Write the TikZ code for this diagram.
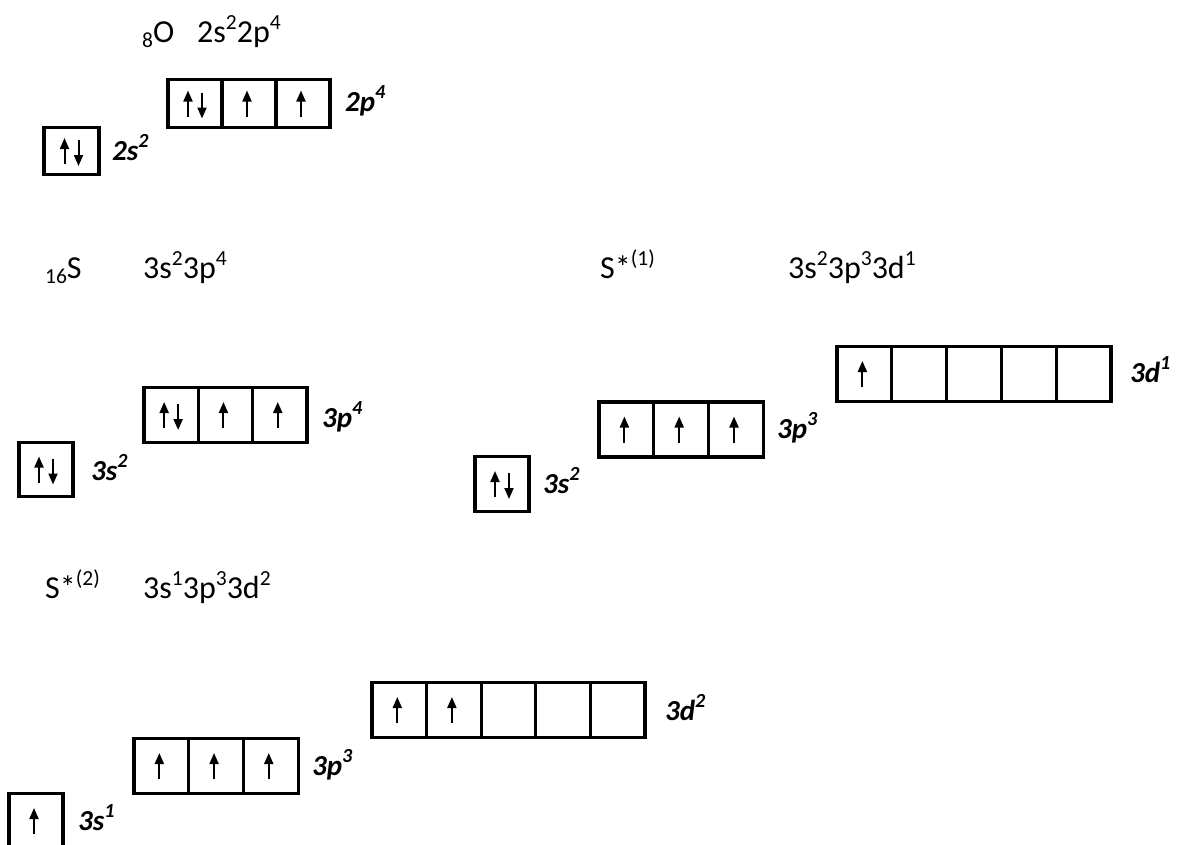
\documentclass[tikz,border=0pt]{standalone}
\usepackage{fontspec}
\setmainfont{Carlito}
\usetikzlibrary{arrows.meta,calc}
\newcommand\hsup[1]{\raisebox{12.5pt}{\fontsize{21.5}{22}\selectfont #1}}
\newcommand\hsub[1]{\raisebox{-5pt}{\fontsize{21.5}{22}\selectfont #1}}
\newcommand\lsup[1]{\raisebox{13pt}{\fontsize{20}{20}\selectfont\bfseries\itshape #1}}
\newcommand\orbrow[6]{% prefix, left x, center y, cell w, cell h, n
  \foreach \i in {1,...,#6}{
    \node[orb={#4}{#5}] (#1\i) at ({#2+(\i-0.5)*#4},#3) {};
  }}
\newcommand\upspin[2]{\draw[spin] ($(#1.center)+(#2,13)$) -- ($(#1.center)+(#2,-13)$);}
\newcommand\pairspin[1]{%
  \draw[spin] ($(#1.center)+(-7,13)$) -- ($(#1.center)+(-7,-13)$);
  \draw[spin] ($(#1.center)+(7,-11)$) -- ($(#1.center)+(7,15)$);}
\begin{document}
\begin{tikzpicture}[x=1pt,y=-1pt,
  orb/.style 2 args={draw, line width=3.2pt, inner sep=0pt, minimum width=#1pt, minimum height=#2pt},
  spin/.style={line width=2pt, -{Triangle[length=11pt,width=9pt]}},
  hdr/.style={font=\fontsize{32}{36}\selectfont, inner sep=0pt, anchor=base west},
  lbl/.style={font=\fontsize{29}{33}\selectfont\bfseries\itshape, inner sep=0pt, anchor=base west}]
\useasboundingbox (0,0) rectangle (1186,844);

% ---------- Oxygen ----------
\node[hdr] (hO) at (142,42) {\hsub{8}O};
\node[hdr] (cO) at (197,42) {2s\hsup{2}2p\hsup{4}};
\orbrow{Os}{44}{151}{55}{47}{1}
\orbrow{Op}{168}{103.5}{54}{48}{3}
\pairspin{Os1}
\pairspin{Op1}
\upspin{Op2}{-2}
\upspin{Op3}{-2}
\node[lbl] (lOs) at (112,160) {2s\lsup{2}};
\node[lbl] (lOp) at (345,111) {2p\lsup{4}};

% ---------- Sulfur ----------
\node[hdr] (hS) at (45,278) {\hsub{16}S};
\node[hdr] (cS) at (143,278) {3s\hsup{2}3p\hsup{4}};
\orbrow{Ss}{19}{469.5}{54}{54}{1}
\orbrow{Sp}{144}{415}{54.3}{55}{3}
\pairspin{Ss1}
\pairspin{Sp1}
\upspin{Sp2}{-2}
\upspin{Sp3}{-2}
\node[lbl] (lSs) at (91,480) {3s\lsup{2}};
\node[lbl] (lSp) at (322,427) {3p\lsup{4}};

% ---------- S*(1) ----------
\node[hdr] (hA) at (600,278) {S*\hsup{(1)}};
\node[hdr] (cA) at (788,278) {3s\hsup{2}3p\hsup{3}3d\hsup{1}};
\orbrow{As}{475}{484}{54}{55}{1}
\orbrow{Ap}{599}{429.5}{54.8}{55}{3}
\orbrow{Ad}{837}{374}{54.8}{55}{5}
\pairspin{As1}
\upspin{Ap1}{-2}
\upspin{Ap2}{-2}
\upspin{Ap3}{-2}
\upspin{Ad1}{-2}
\node[lbl] (lAs) at (543,493) {3s\lsup{2}};
\node[lbl] (lAp) at (777,438) {3p\lsup{3}};
\node[lbl] (lAd) at (1130,382) {3d\lsup{1}};

% ---------- S*(2) ----------
\node[hdr] (hB) at (45,598) {S*\hsup{(2)}};
\node[hdr] (cB) at (143,598) {3s\hsup{1}3p\hsup{3}3d\hsup{2}};
\orbrow{Bs}{9}{821}{54}{55}{1}
\orbrow{Bp}{134}{766}{54.7}{55}{3}
\orbrow{Bd}{372}{710}{54.6}{55}{5}
\upspin{Bs1}{-2}
\upspin{Bp1}{-2}
\upspin{Bp2}{-2}
\upspin{Bp3}{-2}
\upspin{Bd1}{-2}
\upspin{Bd2}{-2}
\node[lbl] (lBs) at (78,830) {3s\lsup{1}};
\node[lbl] (lBp) at (312,775) {3p\lsup{3}};
\node[lbl] (lBd) at (665,720) {3d\lsup{2}};
\end{tikzpicture}
\end{document}
